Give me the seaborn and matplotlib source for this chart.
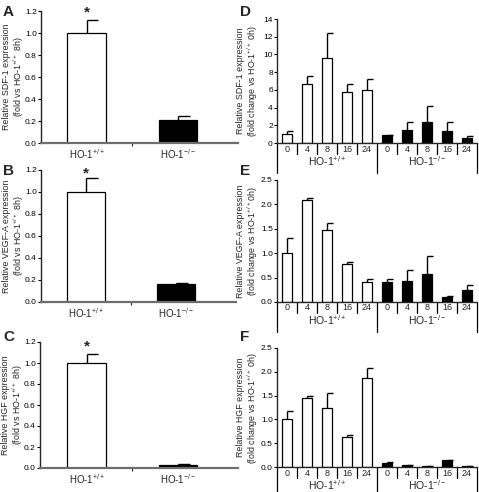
import matplotlib
matplotlib.use("Agg")
import matplotlib.pyplot as plt
import numpy as np
import pandas as pd
import seaborn as sns

# ---- data ----
genotypes = ["+/+", "-/-"]
hours = ["0", "4", "8", "16", "24"]

# left column: fold vs HO-1+/+ 8h
sdf1_8h = [1.0, 0.21]
sdf1_8h_err = [0.12, 0.035]
vegf_8h = [1.0, 0.16]
vegf_8h_err = [0.13, 0.015]
hgf_8h = [1.0, 0.03]
hgf_8h_err = [0.09, 0.01]

# right column: time course, +/+ first then -/-
sdf1_time = [1.05, 6.7, 9.6, 5.8, 6.0, 0.88, 1.47, 2.4, 1.4, 0.52]
sdf1_time_err = [0.32, 0.9, 2.8, 0.87, 1.17, 0.05, 0.87, 1.75, 0.95, 0.22]
vegf_time = [1.0, 2.08, 1.48, 0.77, 0.40, 0.42, 0.43, 0.57, 0.10, 0.25]
vegf_time_err = [0.32, 0.05, 0.14, 0.04, 0.07, 0.05, 0.23, 0.38, 0.02, 0.10]
hgf_time = [1.0, 1.44, 1.25, 0.63, 1.88, 0.08, 0.035, 0.02, 0.14, 0.02]
hgf_time_err = [0.17, 0.06, 0.30, 0.05, 0.20, 0.015, 0.005, 0.003, 0.01, 0.003]

W, H = 479, 492
sns.set_style("ticks")
plt.rcParams["font.family"] = ["Liberation Sans", "DejaVu Sans"]
plt.rcParams["mathtext.fontset"] = "custom"
plt.rcParams["mathtext.rm"] = "Liberation Sans"
plt.rcParams["mathtext.it"] = "Liberation Sans"
plt.rcParams["axes.linewidth"] = 1.0

WT = r"HO-1$^{+/+}$"
KO = r"HO-1$^{-/-}$"
PAL = {"+/+": "white", "-/-": "black"}

fig = plt.figure(figsize=(W / 100, H / 100), dpi=100)


def add_ax(left, right, top, bottom):
    return fig.add_axes([left / W, 1 - bottom / H, (right - left) / W, (bottom - top) / H])


def style(ax, ylim, yticks, fmt):
    sns.despine(ax=ax)
    ax.set_ylim(*ylim)
    ax.set_yticks(yticks)
    ax.set_yticklabels([fmt.format(t) for t in yticks])
    ax.tick_params(axis="y", labelsize=6, length=2, width=0.8, pad=1, colors="black")
    ax.set_xlabel("")


def draw_bars(ax, vals, errs, genos, width, capw):
    df = pd.DataFrame({"bar": [f"b{i}" for i in range(len(vals))],
                       "value": vals, "genotype": genos})
    sns.barplot(data=df, x="bar", y="value", hue="genotype", palette=PAL,
                dodge=False, width=width, edgecolor="black", linewidth=0.9,
                legend=False, ax=ax)
    x = np.arange(len(vals))
    v = np.array(vals)
    e = np.array(errs)
    ax.errorbar(x, v, yerr=[np.zeros_like(e), e], fmt="none", ecolor="black",
                elinewidth=1.0, capsize=0)
    ax.hlines(v + e, x, x + capw, color="black", lw=1.0)


def left_panel(rect, vals, errs, ylab, star_y, letter, letter_y):
    ax = add_ax(*rect)
    draw_bars(ax, vals, errs, genotypes, 0.42, 0.13)
    # bar centres sit at x=87 and x=178 px
    ax.set_xlim(-0.5 - (41 - rect[0]) / 91, 1.66)
    style(ax, (0, 1.2), np.arange(0, 1.21, 0.2), "{:.1f}")
    ax.spines["bottom"].set_color("#6e6e6e")
    ax.spines["bottom"].set_linewidth(1.6)
    ax.set_xticks([0, 1])
    ax.set_xticklabels([WT, KO])
    ax.set_xticks([0.5], minor=True)
    ax.tick_params(axis="x", which="major", length=0, labelsize=7, pad=3)
    ax.tick_params(axis="x", which="minor", length=2.5, width=0.8)
    ax.set_ylabel(ylab, fontsize=6.4, linespacing=1.1)
    ax.yaxis.set_label_coords(-15 / (rect[1] - rect[0]), 0.5)
    ax.text(0, star_y, "*", ha="center", va="center", fontsize=11, fontweight="bold")
    fig.text(3 / W, 1 - letter_y / H, letter, fontsize=11, fontweight="bold", va="center")
    return ax


def right_panel(rect, vals, errs, ylab, ylim, yticks, fmt, letter, letter_y):
    ax = add_ax(*rect)
    genos = ["+/+"] * 5 + ["-/-"] * 5
    draw_bars(ax, vals, errs, genos, 0.5, 0.3)
    ax.set_xlim(-0.5, 9.5)
    style(ax, ylim, yticks, fmt)
    ax.set_xticks([])
    ax.set_ylabel(ylab, fontsize=6.4, linespacing=1.1)
    ax.yaxis.set_label_coords(-16.5 / (rect[1] - rect[0]), 0.5)
    h_px = rect[3] - rect[2]
    tr = ax.get_xaxis_transform()
    # category table under the axis
    for i in range(11):
        b = i - 0.5
        depth = 30 if i in (0, 5, 10) else 11
        ax.plot([b, b], [0, -depth / h_px], color="black", lw=0.9,
                transform=tr, clip_on=False)
    for i, lab in enumerate(hours * 2):
        ax.text(i, -6 / h_px, lab, transform=tr, ha="center", va="center", fontsize=6.5)
    ax.text(2, -18 / h_px, WT, transform=tr, ha="center", va="center", fontsize=7.5)
    ax.text(7, -18 / h_px, KO, transform=tr, ha="center", va="center", fontsize=7.5)
    fig.text(240 / W, 1 - letter_y / H, letter, fontsize=11, fontweight="bold", va="center")
    return ax


left_panel((41, 238, 11, 143), sdf1_8h, sdf1_8h_err,
           "Relative SDF-1 expression\n(fold vs " + WT + " 8h)", 1.19, "A", 12)
left_panel((41, 236, 170, 302), vegf_8h, vegf_8h_err,
           "Relative VEGF-A expression\n(fold vs " + WT + " 8h)", 1.17, "B", 171)
left_panel((40, 238, 342, 468), hgf_8h, hgf_8h_err,
           "Relative HGF expression\n(fold vs " + WT + " 8h)", 1.16, "C", 337)

right_panel((277, 477, 19, 143), sdf1_time, sdf1_time_err,
            "Relative SDF-1 expression\n(fold change vs " + WT + " 0h)",
            (0, 14), np.arange(0, 15, 2), "{:.0f}", "D", 12)
right_panel((277, 477, 180, 302), vegf_time, vegf_time_err,
            "Relative VEGF-A expression\n(fold change vs " + WT + "0h)",
            (0, 2.5), np.arange(0, 2.51, 0.5), "{:.1f}", "E", 171)
right_panel((277, 477, 348, 467), hgf_time, hgf_time_err,
            "Relative HGF expression\n(fold change vs " + WT + " 0h)",
            (0, 2.5), np.arange(0, 2.51, 0.5), "{:.1f}", "F", 337)

fig.savefig("out.png", dpi=100)
